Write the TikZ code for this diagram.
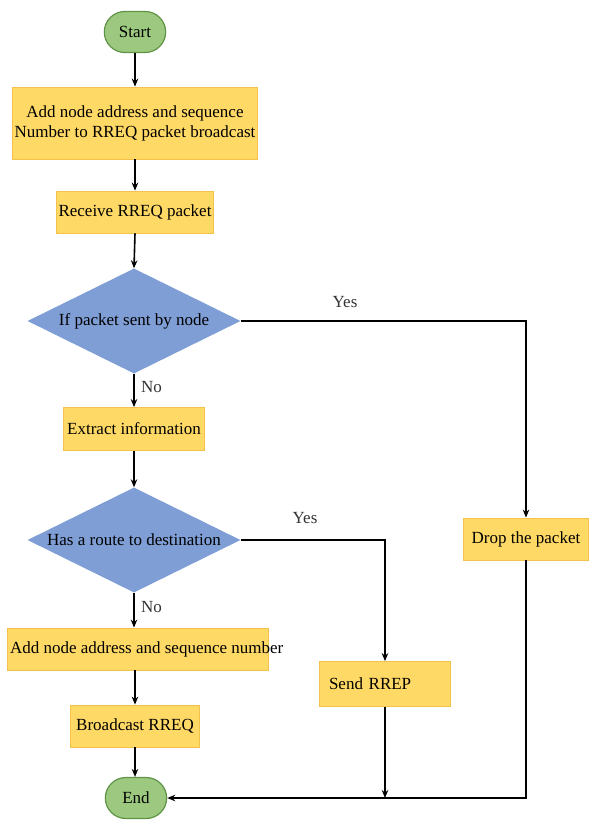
\documentclass[tikz,border=0pt]{standalone}
\usepackage{fontspec}
\setmainfont{Liberation Serif}
\usetikzlibrary{shapes.geometric,shapes.misc,arrows.meta}
\definecolor{boxfill}{HTML}{FFD966}
\definecolor{boxline}{HTML}{F2C24A}
\definecolor{dfill}{HTML}{7E9ED5}
\definecolor{gfill}{HTML}{9CC97F}
\definecolor{gline}{HTML}{5F9346}
\tikzset{
  procbox/.style={rectangle, fill=boxfill, draw=boxline, line width=0.8pt, inner sep=2pt, font=\fontsize{17}{20}\selectfont, align=center},
  termbox/.style={rounded rectangle, fill=gfill, draw=gline, line width=1.2pt, minimum width=68pt, minimum height=41pt, font=\fontsize{17}{20}\selectfont},
  decbox/.style={diamond, fill=dfill, draw=none, inner sep=0pt, shape aspect=2.03, minimum width=213pt, minimum height=105pt, font=\fontsize{17}{20}\selectfont},
  conn/.style={line width=1.6pt, -{Stealth[length=8pt,width=6.5pt]}},
  lbl/.style={font=\fontsize{17}{20}\selectfont, text=black!80}
}
\begin{document}
\begin{tikzpicture}[x=1pt,y=-1pt]
\useasboundingbox (0,0) rectangle (590,821);
\node[termbox] (start) at (135,32) {Start};
\node[procbox, minimum width=242pt, minimum height=72pt] (b1) at (135,123) {Add node address and sequence\\Number to RREQ packet broadcast};
\node[procbox, minimum width=155pt, minimum height=42pt] (b2) at (135,212) {Receive RREQ packet};
\node[decbox] (d1) at (134,321) {If packet sent by node};
\node[procbox, minimum width=141pt, minimum height=43pt] (b3) at (134,429) {Extract information};
\node[decbox] (d2) at (134,540) {Has a route to destination};
\node[procbox, minimum width=125pt, minimum height=42pt] (drop) at (526,539) {Drop the packet};
\node[procbox, minimum width=261pt, minimum height=42pt] (b4) at (137.5,649) {\makebox[255pt][l]{Add node address and sequence number}};
\node[procbox, minimum width=129pt, minimum height=42pt] (b5) at (135,726) {Broadcast RREQ};
\node[procbox, minimum width=131pt, minimum height=45pt, text width=112pt, align=left] (send) at (385,684) {Send RREP};
\node[termbox] (end) at (136,798) {End};

\draw[conn] (start.south) -- (b1.north);
\draw[conn] (b1.south) -- (b2.north);
\draw[conn] (b2.south) -- (d1.north);
\draw[conn] (d1.south) -- node[lbl, right, pos=0.4, xshift=3pt] (no1) {No} (b3.north);
\draw[conn] (b3.south) -- (d2.north);
\draw[conn] (d2.south) -- node[lbl, right, pos=0.4, xshift=3pt] (no2) {No} (d2.south |- b4.north);
\draw[conn] (b4.south -| b5.north) -- (b5.north);
\draw[conn] (b5.south) -- (b5.south |- end.north);
\draw[conn] (d1.east) -| (drop.north);
\node[lbl] (yes1) at (345,302) {Yes};
\draw[conn] (d2.east) -| (send.north);
\node[lbl] (yes2) at (305,518) {Yes};
\draw[conn] (drop.south) |- (end.east);
\coordinate (jn) at (send.south |- end.east);
\draw[conn] (send.south) -- (jn);
\end{tikzpicture}
\end{document}
